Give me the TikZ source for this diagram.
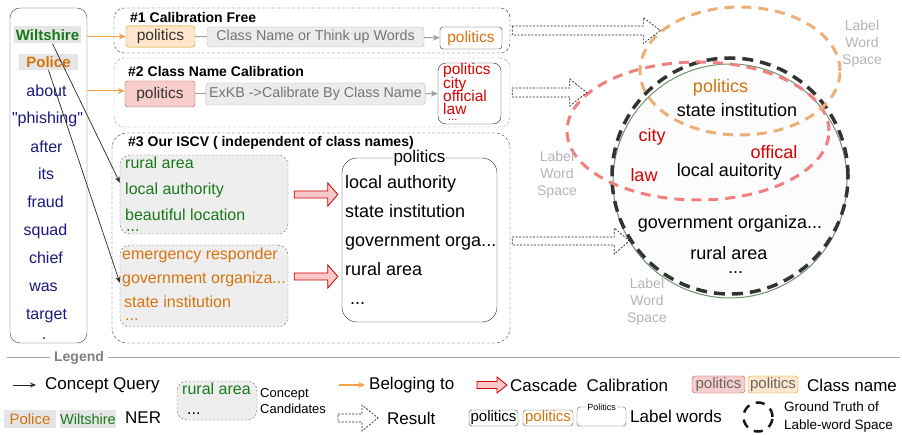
\documentclass[tikz,border=0pt]{standalone}
\usepackage{fontspec}
\setmainfont{Liberation Sans}[Ligatures=TeXOff]
\usepackage{tikz}
\usetikzlibrary{arrows.meta, positioning, calc, shapes.geometric}

\definecolor{navy}{RGB}{25,25,125}
\definecolor{nergreen}{RGB}{25,120,25}
\definecolor{nerorange}{RGB}{215,115,15}
\definecolor{lblred}{RGB}{215,0,0}
\definecolor{hlgray}{RGB}{229,229,229}
\definecolor{orfill}{RGB}{255,230,204}
\definecolor{ordraw}{RGB}{215,155,0}
\definecolor{rdfill}{RGB}{248,206,204}
\definecolor{rddraw}{RGB}{184,84,80}
\definecolor{procfill}{RGB}{236,236,236}
\definecolor{procdraw}{RGB}{185,185,185}
\definecolor{proctext}{RGB}{115,115,115}
\definecolor{candfill}{RGB}{238,238,238}
\definecolor{spacegray}{RGB}{180,180,180}
\definecolor{orring}{RGB}{236,175,120}
\definecolor{rdring}{RGB}{240,128,128}
\definecolor{gtgreen}{RGB}{110,145,110}
\definecolor{cascfill}{RGB}{250,200,200}
\definecolor{cascdraw}{RGB}{204,0,0}
\definecolor{belong}{RGB}{250,160,70}

% fat hollow arrow: [style]{from}{to}{shaft half}{head half}{head length}
\newcommand{\fatarrow}[6][]{%
  \draw[#1] let \p1=(#2), \p2=(#3) in
    (\x1,\y1+#4pt) -- (\x2-#6pt,\y1+#4pt) -- (\x2-#6pt,\y1+#5pt) -- (\x2,\y1)
    -- (\x2-#6pt,\y1-#5pt) -- (\x2-#6pt,\y1-#4pt) -- (\x1,\y1-#4pt) -- cycle;}

\begin{document}
\begin{tikzpicture}[
  x=1pt, y=-1pt,
  panel/.style = {draw=black!75, rounded corners=10pt, minimum width=77pt, minimum height=335pt},
  ner/.style = {fill=hlgray, inner sep=0pt, font=\bfseries\fontsize{15}{15}\selectfont},
  word/.style = {anchor=base, text=navy, inner sep=0pt, font=\fontsize{16}{16}\selectfont},
  method/.style = {draw=black!80, dash pattern=on 3pt off 2pt, rounded corners=10pt, minimum width=396pt},
  mtitle/.style = {anchor=west, inner sep=0pt, font=\bfseries\fontsize{14}{14}\selectfont},
  cls/.style = {rounded corners=3pt, minimum height=21pt, minimum width=69pt, text=black!80, font=\fontsize{15.5}{15.5}\selectfont},
  proc/.style = {draw=procdraw, fill=procfill, rounded corners=3pt, minimum width=217pt, minimum height=20pt, text=proctext, font=\fontsize{14.3}{14.3}\selectfont},
  outbox/.style = {draw=black!85, rounded corners=3pt},
  link/.style = {draw=procdraw!85!black, line width=1pt},
  cand/.style = {draw=black!60, dash pattern=on 2pt off 2pt, fill=candfill, rounded corners=10pt, minimum width=168pt},
  candword/.style = {anchor=base west, inner sep=0pt, font=\fontsize{16}{16}\selectfont},
  lword/.style = {anchor=base west, inner sep=0pt, font=\fontsize{18}{18}\selectfont},
  incircle/.style = {inner sep=0pt, font=\fontsize{18}{18}\selectfont},
  lwspace/.style = {text=spacegray, align=center, inner sep=0pt, font=\fontsize{14}{17}\selectfont},
  ring/.style = {ellipse, line width=3pt, dash pattern=on 10pt off 7pt},
  casc/.style = {draw=cascdraw, fill=cascfill, line width=0.8pt},
  result/.style = {draw=black!85, dash pattern=on 2pt off 1.5pt, line width=0.7pt},
  qarrow/.style = {black!85, line width=0.7pt, -{Stealth[length=6pt, width=5pt]}},
  orarrow/.style = {belong, line width=1pt, -{Stealth[length=7pt, width=6pt]}},
  legtext/.style = {anchor=west, inner sep=0pt, font=\fontsize{17}{17}\selectfont}
]
  \useasboundingbox (0,0) rectangle (902,435);

  % Sentence
  \node[panel] (sent) at (48.5,175.5) {};
  \node[ner, text=nergreen, minimum width=67pt, minimum height=17pt] (wilt) at (47.5,35) {Wiltshire};
  \node[ner, text=nerorange, minimum width=59pt, minimum height=16pt] (pol) at (48.5,62) {Police};
  \node[word] (w1) at (46.5,96.5) {about};
  \node[word] (w2) at (47.5,123.5) {"phishing"};
  \node[word] (w3) at (46.5,152.5) {after};
  \node[word] (w4) at (46,179.5) {its};
  \node[word] (w5) at (45.5,207.5) {fraud};
  \node[word] (w6) at (45.5,235.5) {squad};
  \node[word] (w7) at (46,263.5) {chief};
  \node[word] (w8) at (43.5,291.5) {was};
  \node[word] (w9) at (46.5,319.5) {target};
  \node[word] (w10) at (44,340) {.};

  % #1 Calibration Free
  \node[method, minimum height=45pt] (frame1) at (312,30.5) {};
  \node[mtitle] (title1) at (130,18) {\#1 Calibration Free};
  \node[cls, draw=ordraw, fill=orfill] (pol1) at (160.5,36.5) {politics};
  \node[proc] (gray1) at (315.5,37) {Class Name or Think up Words};
  \node[outbox, text=nerorange, minimum width=62pt, minimum height=22pt, font=\fontsize{15.5}{15.5}\selectfont] (out1) at (471,38) {politics};
  \draw[link] (pol1) -- (gray1);
  \draw[link, -{Stealth[length=7pt, width=6pt]}] (gray1) -- (out1);

  % #2 Class Name Calibration
  \node[method, draw=black!40, minimum height=69pt] (frame2) at (312,92.5) {};
  \node[mtitle] (title2) at (128,72) {\#2 Class Name Calibration};
  \node[cls, draw=rddraw, fill=rdfill, minimum width=70pt, minimum height=26pt] (pol2) at (160,94) {politics};
  \node[proc, minimum height=22pt] (gray2) at (315.5,94) {ExKB ->Calibrate By Class Name};
  \node[outbox, rounded corners=8pt, minimum width=63pt, minimum height=61pt] (out2) at (469.5,93.5) {};
  \node[candword, text=lblred, font=\fontsize{15.5}{15.5}\selectfont] (out2a) at (443,75) {politics};
  \node[candword, text=lblred, font=\fontsize{15.5}{15.5}\selectfont] (out2b) at (443,88.5) {city};
  \node[candword, text=lblred, font=\fontsize{15.5}{15.5}\selectfont] (out2c) at (443,102) {official};
  \node[candword, text=lblred, font=\fontsize{15.5}{15.5}\selectfont] (out2d) at (443,115) {law};
  \node[candword, text=lblred, font=\fontsize{11}{11}\selectfont] (out2e) at (448,121) {...};
  \draw[link] (pol2) -- (gray2);
  \draw[link, -{Stealth[length=7pt, width=6pt]}] (gray2) -- (out2);

  % #3 Our ISCV
  \node[method, rounded corners=15pt, minimum width=398pt, minimum height=210pt] (frame3) at (311,238) {};
  \node[mtitle] (title3) at (128,143) {\#3 Our ISCV ( independent of class names)};
  \node[cand, minimum height=79pt] (cand1) at (204,194.5) {};
  \node[candword, text=nergreen] (c1a) at (125,169) {rural area};
  \node[candword, text=nergreen] (c1b) at (125,195) {local authority};
  \node[candword, text=nergreen] (c1c) at (125,220.5) {beautiful location};
  \node[candword, text=nergreen] (c1d) at (126,232) {...};
  \node[cand, minimum height=82pt] (cand2) at (204,286) {};
  \node[candword, text=nerorange] (c2a) at (122,260) {emergency responder};
  \node[candword, text=nerorange] (c2b) at (122,284) {government organiza...};
  \node[candword, text=nerorange] (c2c) at (124,308) {state institution};
  \node[candword, text=nerorange] (c2d) at (125,321) {...};
  \node[draw=black!85, rounded corners=15pt, minimum width=155pt, minimum height=164pt] (lbox) at (419.5,240) {};
  \node[fill=white, inner sep=1pt, font=\fontsize{17}{17}\selectfont] (ltitle) at (lbox.north) {politics};
  \node[lword] (l1) at (345,189) {local authority};
  \node[lword] (l2) at (345,218) {state institution};
  \node[lword] (l3) at (345,247) {government orga...};
  \node[lword] (l4) at (345,276) {rural area};
  \node[lword] (l5) at (350,305) {...};
  \fatarrow[casc]{[xshift=6pt]cand1.east}{[xshift=-4pt]lbox.west}{3.5}{11.5}{10}
  \fatarrow[casc]{[shift={(6pt,9.5pt)}]cand2.east}{[xshift=-4pt]lbox.west}{3.5}{11.5}{10}

  % Concept queries and class names
  \draw[orarrow] (sent.east |- pol1) -- (pol1.west);
  \draw[orarrow] ($(sent.east |- pol2.west)+(0,-3)$) -- ($(pol2.west)+(0,-3)$);
  \draw[qarrow] ([xshift=5pt]wilt.south) -- ($(cand1.north west)!0.35!(cand1.south west)$);
  \draw[qarrow] (pol.south) -- ($(cand2.north west)!0.46!(cand2.south west)$);

  % Label word spaces
  \node[circle, draw=gtgreen, fill=black!1, line width=1pt, minimum size=234pt] (gtspace) at (730,181) {};
  \node[circle, draw=black!80, line width=3.5pt, dash pattern=on 11pt off 7pt, minimum size=236pt] (gtring) at (730,176) {};
  \node[ring, draw=rdring, minimum width=262pt, minimum height=138pt] (rdspace) at (698,131) {};
  \node[ring, draw=orring, minimum width=200pt, minimum height=128pt] (orspace) at (740,71) {};
  \node[incircle, text=nerorange] (s1) at (720.5,88) {politics};
  \node[incircle] (s2) at (737,110.5) {state institution};
  \node[incircle, text=lblred] (s3) at (652,136.5) {city};
  \node[incircle, text=lblred] (s4) at (774,152) {offical};
  \node[incircle, text=lblred] (s5) at (644,175.5) {law};
  \node[incircle] (s6) at (729.5,172) {local auitority};
  \node[incircle] (s7) at (730,223.5) {government organiza...};
  \node[incircle] (s8) at (729,253) {rural area};
  \node[incircle] (s9) at (735.5,273) {...};
  \node[lwspace] (lws1) at (862,44) {Label\\Word\\Space};
  \node[lwspace] (lws2) at (557,175) {Label\\Word\\Space};
  \node[lwspace] (lws3) at (647,301.5) {Label\\Word\\Space};

  % Results
  \fatarrow[result]{[xshift=2pt]frame1.east}{orspace.153}{4.5}{13}{17}
  \fatarrow[result]{[xshift=2pt]frame2.east}{rdspace.161}{4.5}{13.5}{17}
  \fatarrow[result]{[shift={(2pt,-3pt)}]frame3.east}{gtspace.211}{4}{13}{15}

  % Legend
  \draw[black!35, line width=0.8pt] (7,357) -- (900,357);
  \node[fill=white, inner xsep=4pt, inner ysep=1pt, text=black!50, font=\bfseries\fontsize{14}{14}\selectfont] (legend) at (79,358) {Legend};

  \node[legtext] (cqtxt) at (45,385) {Concept Query};
  \draw[qarrow] ([xshift=-32pt]cqtxt.west) -- ([xshift=-9pt]cqtxt.west);
  \node[cand, minimum width=80pt, minimum height=39pt] (legcand) at (217,400.5) {};
  \node[candword, text=nergreen] (legcanda) at (182,395) {rural area};
  \node[candword] (legcandb) at (187,414) {...};
  \node[anchor=west, align=left, inner sep=0pt, font=\fontsize{13}{16}\selectfont] (legcandtxt) at (260,401) {Concept\\Candidates};
  \node[legtext] (beltxt) at (369,385) {Beloging to};
  \draw[orarrow] ([xshift=-30pt]beltxt.west) -- ([xshift=-4pt]beltxt.west);
  \node[legtext] (casctxt) at (510,385) {Cascade\ \ Calibration};
  \fatarrow[casc]{[xshift=-33pt]casctxt.west}{[xshift=-3pt]casctxt.west}{3.5}{8}{10}
  \node[cls, draw=rddraw, fill=rdfill, text=black!60, minimum width=53pt, minimum height=17pt, inner sep=0pt, font=\fontsize{15}{15}\selectfont] (legcls1) at (718.5,384.5) {politics};
  \node[cls, draw=ordraw, fill=orfill, text=black!60, minimum width=50pt, minimum height=17pt, inner sep=0pt, font=\fontsize{15}{15}\selectfont] (legcls2) at (773,384.5) {politics};
  \node[legtext] (clstxt) at (807,385) {Class name};

  \node[ner, text=nerorange, font=\fontsize{15}{15}\selectfont, minimum width=52pt, minimum height=18pt] (legpol) at (30,419) {Police};
  \node[ner, text=nergreen, font=\fontsize{14.5}{14.5}\selectfont, minimum width=56pt, minimum height=18pt] (legwilt) at (88,419) {Wiltshire};
  \node[legtext] (nertxt) at (125,418) {NER};
  \node[legtext] (restxt) at (387,418) {Result};
  \fatarrow[result]{[xshift=-49pt]restxt.west}{[xshift=-9pt]restxt.west}{4}{13}{16}
  \node[outbox, draw=black!70, minimum width=49pt, minimum height=16pt, inner sep=0pt, font=\fontsize{15}{15}\selectfont] (leglw1) at (493.5,418) {politics};
  \node[outbox, draw=black!70, text=nerorange, minimum width=50pt, minimum height=16pt, inner sep=0pt, font=\fontsize{15}{15}\selectfont] (leglw2) at (548,418) {politics};
  \node[outbox, draw=black!70, minimum width=49pt, minimum height=19pt] (leglw3) at (601.5,416.5) {};
  \node[fill=white, inner sep=1pt, font=\fontsize{9}{9}\selectfont] (leglw3t) at (leglw3.north) {Politics};
  \node[legtext] (lwtxt) at (630,416) {Label words};
  \node[circle, draw=black!90, line width=2.5pt, dash pattern=on 9pt off 7pt, minimum size=29pt] (leggt) at (758,417) {};
  \node[anchor=west, align=left, inner sep=0pt, font=\fontsize{13.5}{18}\selectfont] (gttxt) at (784,417) {Ground Truth of\\Lable-word Space};

\end{tikzpicture}
\end{document}
